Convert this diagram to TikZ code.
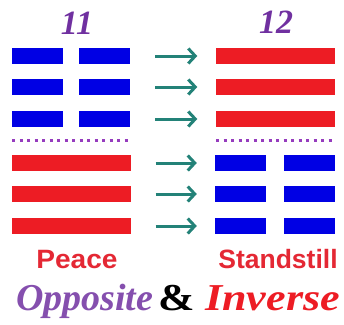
\documentclass[tikz,border=0pt]{standalone}
\usepackage{fontspec}
\setmainfont{Liberation Serif}
\setsansfont{Liberation Sans}
\usetikzlibrary{arrows.meta}

\definecolor{lineblue}{RGB}{0,0,228}
\definecolor{linered}{RGB}{237,28,36}
\definecolor{numpurple}{RGB}{112,48,160}
\definecolor{dotpurple}{RGB}{150,60,190}
\definecolor{arrowteal}{RGB}{35,130,120}
\definecolor{textred}{RGB}{228,40,52}

\begin{document}
\begin{tikzpicture}[x = 1pt, y = -1pt,
	> = {Straight Barb[length = 7pt, width = 15pt]},
	bar/.style = {inner sep = 0, minimum height = 16pt},
	yang/.style = {bar, fill = linered, minimum width = 119pt},
	yin/.style = {bar, fill = lineblue, minimum width = 51pt},
	change/.style = {->, draw = arrowteal, line width = 3pt, shorten < = 25pt, shorten > = 18pt},
	dots/.style = {dotpurple, line width = 3pt, dash pattern = on 3pt off 4.5pt},
	hexnum/.style = {anchor = base, text = numpurple, font = \fontsize{34}{34}\selectfont\bfseries\itshape},
	hexlabel/.style = {anchor = base, text = textred, font = \fontsize{26.5}{26.5}\selectfont\sffamily\bfseries},
	caption/.style = {anchor = base west, inner sep = 0, font = \fontsize{38}{38}\selectfont\bfseries\itshape}]

	\useasboundingbox (0, 0) rectangle (344, 324);

	% Hexagram 11
	
	\node [hexnum] (n11) at (77, 34) {11};
	\node [yin] (a1l) at (37.5, 56) {};
	\node [yin] (a1r) at (104.5, 56) {};
	\node [yin] (a2l) at (37.5, 87) {};
	\node [yin] (a2r) at (104.5, 87) {};
	\node [yin] (a3l) at (37.5, 119) {};
	\node [yin] (a3r) at (104.5, 119) {};
	\draw [dots] (12, 140) -- (131, 140);
	\node [yang] (a4) at (71, 163) {};
	\node [yang] (a5) at (71, 194) {};
	\node [yang] (a6) at (71, 226) {};
	\node [hexlabel] (peace) at (77, 268) {\scalebox{1.06}[1]{Peace}};

	% Hexagram 12
	
	\node [hexnum] (n12) at (276, 33) {12};
	\node [yang] (b1) at (275, 56) {};
	\node [yang] (b2) at (275, 87) {};
	\node [yang] (b3) at (275, 119) {};
	\draw [dots] (216, 140) -- (336, 140);
	\node [yin] (b4l) at (240.5, 163) {};
	\node [yin] (b4r) at (309.5, 163) {};
	\node [yin] (b5l) at (240.5, 194) {};
	\node [yin] (b5r) at (309.5, 194) {};
	\node [yin] (b6l) at (240.5, 226) {};
	\node [yin] (b6r) at (309.5, 226) {};
	\node [hexlabel] (standstill) at (278, 268) {Standstill};

	% Line changes
	
	\draw [change] (a1r) -- (b1);
	\draw [change] (a2r) -- (b2);
	\draw [change] (a3r) -- (b3);
	\draw [change] (a4) -- (b4l);
	\draw [change] (a5) -- (b5l);
	\draw [change] (a6) -- (b6l);

	% Caption
	
	\node [caption, text = numpurple!85] (opposite) at (16, 310) {Opposite};
	\node [caption, text = black] (amp) at (158, 310) {\upshape\scalebox{1.15}[1]{\&}};
	\node [caption, text = linered] (inverse) at (205, 310) {\scalebox{1.16}[1]{Inverse}};

\end{tikzpicture}
\end{document}
